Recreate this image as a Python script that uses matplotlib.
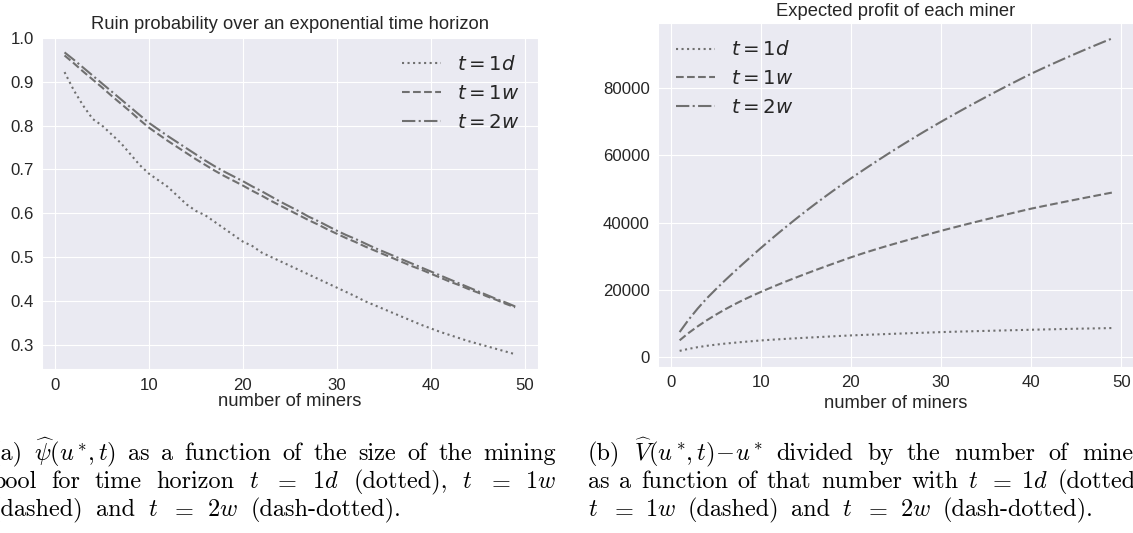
import matplotlib
matplotlib.use("Agg")
import matplotlib.pyplot as plt
import seaborn as sns

# number of miners in the pool
miners = list(range(1, 50))

# ruin probability, time horizon 1 day / 1 week / 2 weeks
ruin_1d = [0.922, 0.880, 0.845, 0.815, 0.800, 0.780, 0.760, 0.735, 0.710, 0.690,
           0.675, 0.660, 0.640, 0.620, 0.605, 0.595, 0.580, 0.565, 0.550, 0.535,
           0.525, 0.510, 0.500, 0.490, 0.480, 0.470, 0.460, 0.450, 0.440, 0.430,
           0.420, 0.410, 0.399, 0.390, 0.381, 0.372, 0.363, 0.354, 0.345, 0.337,
           0.329, 0.322, 0.315, 0.308, 0.302, 0.296, 0.290, 0.284, 0.278]
ruin_1w = [0.960, 0.942, 0.923, 0.905, 0.887, 0.868, 0.850, 0.832, 0.813, 0.795,
           0.780, 0.765, 0.751, 0.737, 0.723, 0.710, 0.697, 0.685, 0.674, 0.663,
           0.651, 0.640, 0.628, 0.617, 0.606, 0.595, 0.584, 0.574, 0.563, 0.553,
           0.543, 0.534, 0.524, 0.515, 0.506, 0.497, 0.488, 0.479, 0.471, 0.462,
           0.453, 0.444, 0.436, 0.427, 0.419, 0.410, 0.402, 0.393, 0.385]
ruin_2w = [0.967, 0.950, 0.932, 0.914, 0.896, 0.878, 0.860, 0.842, 0.824, 0.806,
           0.791, 0.776, 0.762, 0.748, 0.734, 0.720, 0.707, 0.695, 0.684, 0.673,
           0.661, 0.650, 0.638, 0.626, 0.615, 0.604, 0.592, 0.582, 0.571, 0.560,
           0.550, 0.541, 0.531, 0.521, 0.512, 0.503, 0.494, 0.485, 0.476, 0.467,
           0.458, 0.449, 0.440, 0.431, 0.422, 0.413, 0.404, 0.396, 0.387]

# expected profit of each miner
profit_1d = [1800, 2400, 2900, 3300, 3650, 3950, 4200, 4450, 4680, 4900,
             5080, 5250, 5410, 5560, 5710, 5850, 5990, 6130, 6270, 6400,
             6505, 6610, 6710, 6810, 6910, 7005, 7100, 7195, 7290, 7390,
             7465, 7540, 7610, 7680, 7750, 7820, 7890, 7955, 8020, 8090,
             8150, 8210, 8270, 8330, 8390, 8440, 8490, 8540, 8600]
profit_1w = [4940, 7140, 9090, 10890, 12540, 14090, 15540, 16890, 18140, 19340,
             20490, 21600, 22680, 23730, 24760, 25770, 26760, 27730, 28690, 29640,
             30540, 31400, 32230, 33030, 33810, 34570, 35320, 36060, 36800, 37540,
             38240, 38930, 39610, 40280, 40940, 41590, 42240, 42880, 43510, 44140,
             44700, 45250, 45790, 46330, 46860, 47390, 47910, 48430, 48940]
profit_2w = [7400, 11100, 14400, 17400, 20100, 22700, 25200, 27650, 30050, 32400,
             34700, 36950, 39150, 41300, 43400, 45450, 47450, 49400, 51300, 53150,
             54970, 56760, 58520, 60250, 61950, 63620, 65260, 66870, 68450, 70000,
             71530, 73030, 74510, 75970, 77410, 78830, 80230, 81610, 82970, 84310,
             85560, 86790, 88000, 89190, 90360, 91510, 92640, 93750, 94840]

labels = [r'$t = 1d$', r'$t = 1w$', r'$t = 2w$']
styles = [':', '--', '-.']

# caption lines: words, right end of the line in pixels
cap_a = [
    (["(a)", r"$\widehat{\psi}(u^*\!,t)$", "as", "a", "function", "of", "the", "size", "of", "the", "mining"], 556),
    (["pool", "for", "time", "horizon", "$t$", "$=$", "$1d$", "(dotted),", "$t$", "$=$", "$1w$"], 556),
    (["(dashed)", "and", "$t$", "$=$", "$2w$", "(dash-dotted)."], 401),
]
cap_b = [
    (["(b)", r"$\widehat{V}(u^*\!,t)\!-\!u^*$", "divided", "by", "the", "number", "of", "miners"], 1152),
    (["as", "a", "function", "of", "that", "number", "with", "$t$", "$=$", "$1d$", "(dotted),"], 1152),
    (["$t$", "$=$", "$1w$", "(dashed)", "and", "$t$", "$=$", "$2w$", "(dash-dotted)."], 1093),
]

sns.set_style("darkgrid")
plt.rcParams['font.family'] = ['Liberation Sans', 'DejaVu Sans']

W, H = 1133, 533
CAP_SIZE = 17.5
fig = plt.figure(figsize=(W / 100, H / 100), dpi=100)

ax1 = fig.add_axes([42 / W, 1 - 369.3 / H, 495.7 / W, 332 / H])
ax2 = fig.add_axes([658 / W, 1 - 366.5 / H, 476 / W, 343.8 / H])

for ys, ls, lab in zip([ruin_1d, ruin_1w, ruin_2w], styles, labels):
    ax1.plot(miners, ys, ls, color='#707070', lw=1.5, label=lab)
for ys, ls, lab in zip([profit_1d, profit_1w, profit_2w], styles, labels):
    ax2.plot(miners, ys, ls, color='#707070', lw=1.5, label=lab)

ax1.set_title("Ruin probability over an exponential time horizon", fontsize=13.2)
ax2.set_title("Expected profit of each miner", fontsize=13.2, pad=4.6)
for ax in (ax1, ax2):
    ax.tick_params(labelsize=12.1, length=0, pad=6)
ax1.set_xlabel("number of miners", fontsize=13.2, labelpad=0)
ax2.set_xlabel("number of miners", fontsize=13.2, labelpad=4)
ax1.legend(loc='upper right', fontsize=14.2, frameon=False)
ax2.legend(loc='upper left', fontsize=14.2, frameon=False)


def caption_line(words, x0, x1, y):
    r = fig.canvas.get_renderer()
    texts = [fig.text(0, 1 - y / H, w, fontsize=CAP_SIZE, family='cmr10',
                      math_fontfamily='cm', va='baseline', color='black') for w in words]
    widths = [t.get_window_extent(r).width for t in texts]
    gap = (x1 - x0 - sum(widths)) / (len(words) - 1)
    x = x0
    for t, w in zip(texts, widths):
        t.set_x(x / W)
        x += w + gap


for i, (words, end) in enumerate(cap_a):
    caption_line(words, -8, end, 460 + 28 * i)
for i, (words, end) in enumerate(cap_b):
    caption_line(words, 588, end, 460 + 28 * i)

fig.savefig("out.png", dpi=100)
